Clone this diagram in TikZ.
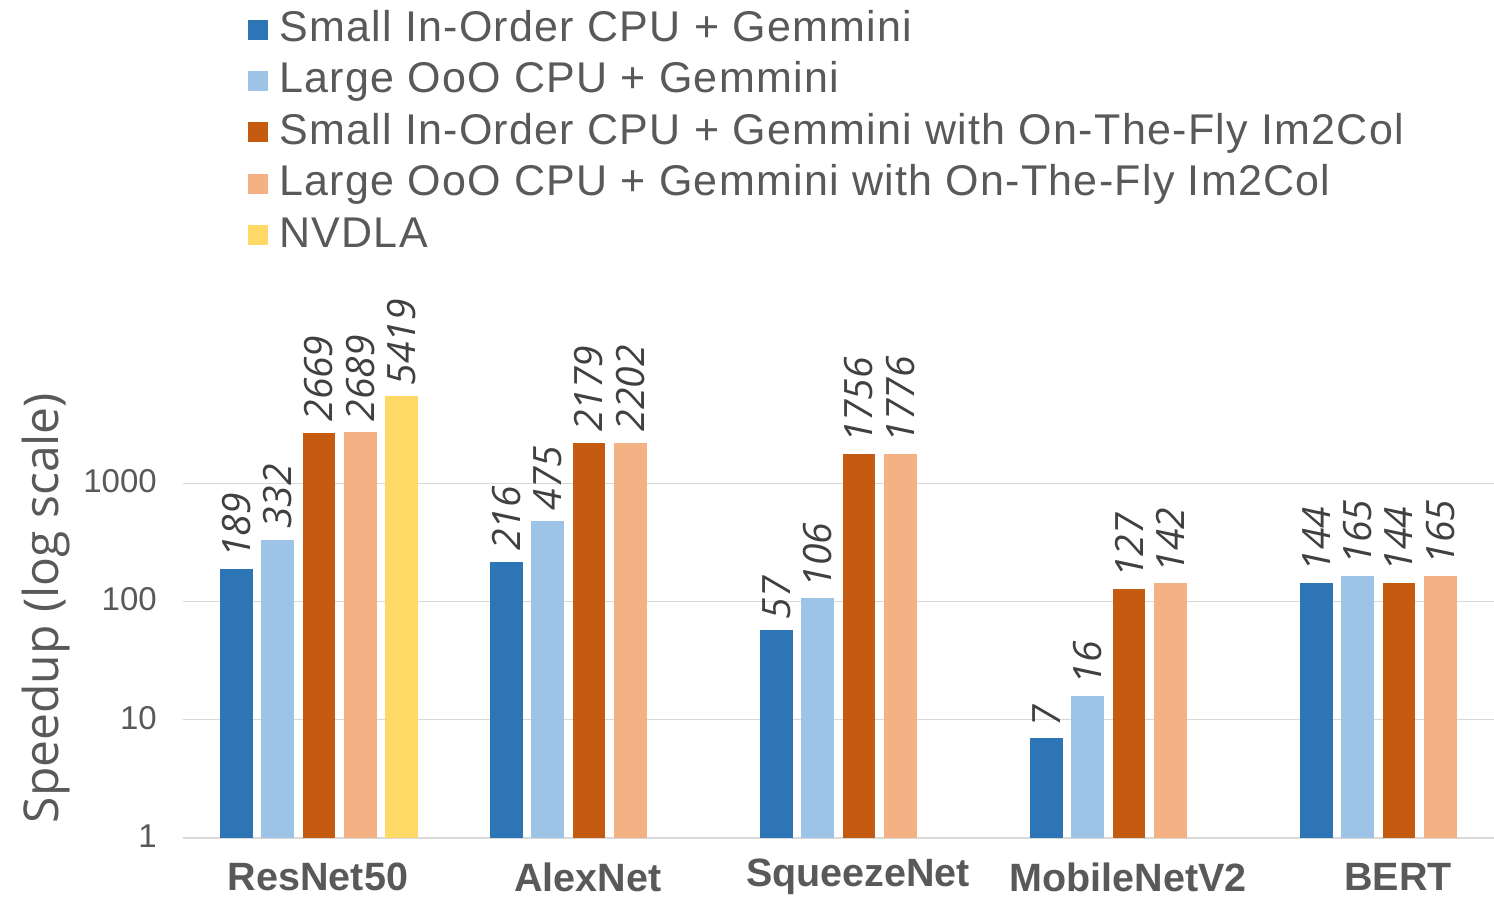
\documentclass[tikz,border=0pt]{standalone}
\usepackage{fontspec}
\setmainfont{Liberation Sans}
\newfontfamily\osans{Open Sans}
\newfontfamily\legfont[LetterSpace=3]{Liberation Sans}
\definecolor{c0}{HTML}{2E75B6}
\definecolor{c1}{HTML}{9DC3E6}
\definecolor{c2}{HTML}{C55A11}
\definecolor{c3}{HTML}{F4B183}
\definecolor{c4}{HTML}{FFD966}
\definecolor{txt}{HTML}{595959}
\definecolor{dtxt}{HTML}{404040}
\definecolor{gridc}{HTML}{D9D9D9}
\tikzset{
  gridline/.style={draw=gridc, line width=1.2pt},
  ticklab/.style={text=txt, inner sep=0pt, font=\fontsize{33}{40}\selectfont},
  catlab/.style={text=txt, inner sep=0pt, font=\fontsize{39.5}{46}\selectfont\bfseries},
  datalab/.style={text=dtxt, inner sep=0pt, rotate=90, anchor=west, font=\osans\itshape\fontsize{39}{46}\selectfont},
  legtext/.style={text=txt, inner sep=0pt, anchor=base west, font=\legfont\fontsize{43}{50}\selectfont},
  legsq/.style={minimum size=20pt, inner sep=0pt},
  axtitle/.style={text=txt, inner sep=0pt, rotate=90, font=\osans\fontsize{48}{56}\selectfont}
}
\begin{document}
\begin{tikzpicture}[x=1pt,y=-1pt]
\useasboundingbox[fill=white] (0,0) rectangle (1494,897);
% gridlines and ticks
\foreach \v [count=\k from 0] in {1,10,100,1000} {
  \pgfmathsetmacro{\yy}{838-118.3*\k}
  \draw[gridline] (183,\yy) -- (1494,\yy);
  \node[ticklab, anchor=east] (tick\k) at (157,\yy-2) {\v};
}
% bars
\foreach \vals [count=\g from 0] in {{189,332,2669,2689,5419},{216,475,2179,2202},{57,106,1756,1776},{7,16,127,142},{144,165,144,165}} {
  \foreach \v [count=\j from 0] in \vals {
    \pgfmathsetmacro{\xl}{220+270*\g+41.3*\j}
    \pgfmathsetmacro{\xc}{\xl+16.3}
    \pgfmathsetmacro{\yt}{838-118.3*log10(\v)}
    \fill[c\j] (\xl,838) rectangle (\xl+32.6,\yt);
    \node[datalab] (lab\g-\j) at (\xc,\yt-11) {\v};
  }
}
% category labels
\foreach \c [count=\g from 0] in {ResNet50,AlexNet,SqueezeNet,MobileNetV2,BERT} {
  \node[catlab] (cat\g) at (318+270*\g,877) {\c};
}
% axis title
\node[axtitle] (ytitle) at (46,608) {Speedup (log scale)};
% legend
\foreach \t [count=\i from 0] in {Small In-Order CPU + Gemmini,Large OoO CPU + Gemmini,Small In-Order CPU + Gemmini with On-The-Fly Im2Col,Large OoO CPU + Gemmini with On-The-Fly Im2Col,NVDLA} {
  \node[legsq, fill=c\i] (sq\i) at (258,29.5+51.4*\i) {};
  \node[legtext] (leg\i) at (279,41.5+51.4*\i) {\t};
}
\end{tikzpicture}
\end{document}
